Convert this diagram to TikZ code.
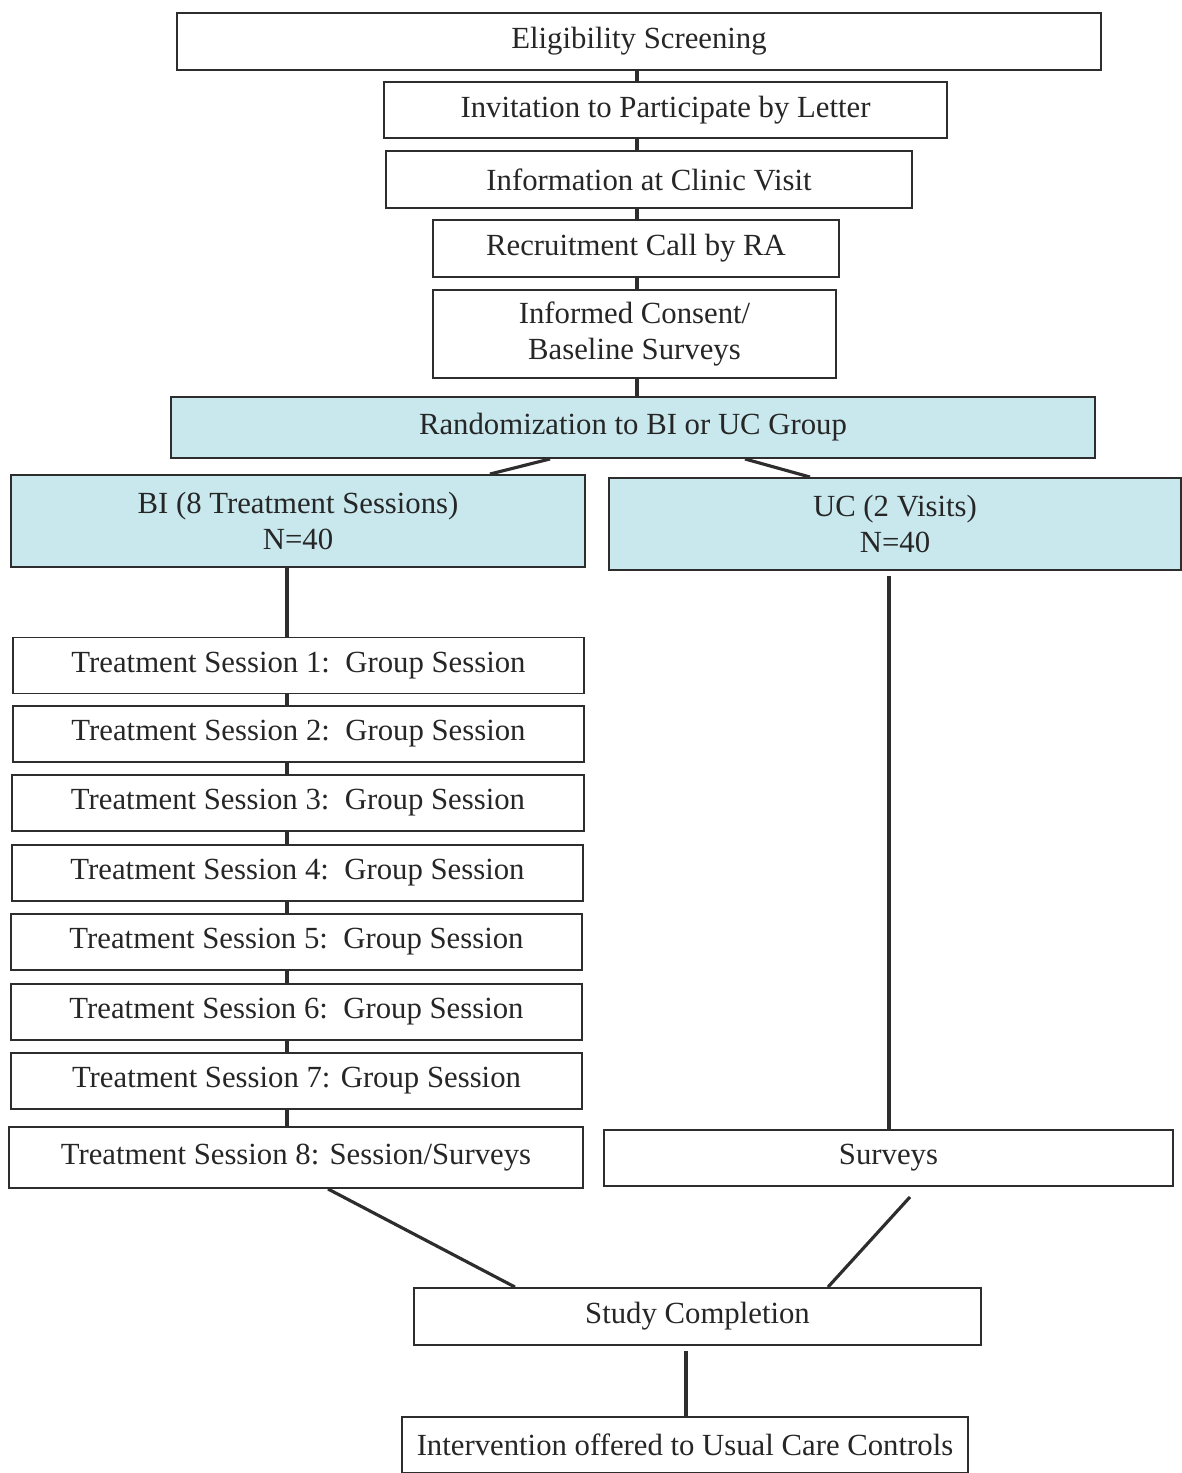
\documentclass[tikz,border=0pt]{standalone}
\usepackage{fontspec}
\setmainfont{Liberation Serif}
\usetikzlibrary{calc}
\definecolor{armfill}{RGB}{200,232,238}
\definecolor{inkline}{RGB}{45,45,45}
\tikzset{
  stagebox/.style={draw=inkline,line width=1.1pt,inner sep=0pt,align=center,
    text=black!85,font=\fontsize{17.5}{20.5}\selectfont},
  armbox/.style={stagebox,fill=armfill},
  link/.style={draw=inkline,line width=1.8pt}
}
\begin{document}
\begin{tikzpicture}[x=0.02cm,y=-0.02cm]
\useasboundingbox (0,0) rectangle (1181,1473);

% screening and recruitment
\node[stagebox,minimum width=18.48cm,minimum height=1.14cm] (elig) at (639,41.5) {Eligibility Screening};
\node[stagebox,minimum width=11.26cm,minimum height=1.12cm] (invite) at (665.5,110) {Invitation to Participate by Letter};
\node[stagebox,minimum width=10.52cm,minimum height=1.14cm] (clinic) at (649,179.5) {Information at Clinic Visit};
\node[stagebox,minimum width=8.12cm,minimum height=1.14cm] (call) at (636,248.5) {Recruitment Call by RA};
\node[stagebox,minimum width=8.06cm,minimum height=1.76cm] (consent) at (634.5,334) {Informed Consent/\\Baseline Surveys};

\coordinate (spine) at (637,0);
\draw[link] (elig.south -| spine) -- (invite.north -| spine);
\draw[link] (invite.south -| spine) -- (clinic.north -| spine);
\draw[link] (clinic.south -| spine) -- (call.north -| spine);
\draw[link] (call.south -| spine) -- (consent.north -| spine);

% randomization
\node[armbox,minimum width=18.48cm,minimum height=1.22cm] (rand) at (633,427.5) {Randomization to BI or UC Group};
\draw[link] (consent.south -| spine) -- (rand.north -| spine);

\node[armbox,minimum width=11.48cm,minimum height=1.84cm] (bi) at (298,521) {BI (8 Treatment Sessions)\\N=40};
\node[armbox,minimum width=11.44cm,minimum height=1.84cm] (uc) at (895,524) {UC (2 Visits)\\N=40};
\draw[link] ($(rand.south)+(-83,0)$) -- ($(bi.north)+(192,0)$);
\draw[link] ($(rand.south)+(112,0)$) -- ($(uc.north)+(-85,0)$);

% treatment sessions
\coordinate (lspine) at (287,0);
\foreach \i/\x/\y/\txt in {1/298.5/665.5/{Treatment Session 1:\ \ Group Session},
                          2/298.5/734/{Treatment Session 2:\ \ Group Session},
                          3/298/803/{Treatment Session 3:\ \ Group Session},
                          4/297.5/873/{Treatment Session 4:\ \ Group Session},
                          5/296.5/942/{Treatment Session 5:\ \ Group Session},
                          6/296.5/1012/{Treatment Session 6:\ \ Group Session},
                          7/296.5/1081/{Treatment Session 7: Group Session}}
  \node[stagebox,minimum width=11.44cm,minimum height=1.12cm] (ts\i) at (\x,\y) {\txt};
\node[stagebox,minimum width=11.48cm,minimum height=1.22cm] (ts8) at (296,1157.5) {Treatment Session 8: Session/Surveys};

\draw[link] (bi.south -| lspine) -- (ts1.north -| lspine);
\foreach \i [evaluate=\i as \j using int(\i+1)] in {1,...,7}
  \draw[link] (ts\i.south -| lspine) -- (ts\j.north -| lspine);

% usual care arm
\node[stagebox,minimum width=11.38cm,minimum height=1.12cm] (surveys) at (888.5,1158) {Surveys};
\coordinate (rspine) at (889,0);
\draw[link] ($(uc.south -| rspine)+(0,5)$) -- (surveys.north -| rspine);

% completion
\node[stagebox,minimum width=11.34cm,minimum height=1.14cm] (done) at (697.5,1316.5) {Study Completion};
\node[stagebox,minimum width=11.32cm,minimum height=1.12cm] (offer) at (685,1445) {Intervention offered to Usual Care Controls};
\draw[link] ($(ts8.south)+(32,0)$) -- ($(done.north)+(-182.5,0)$);
\draw[link] ($(surveys.south)+(21.5,10)$) -- ($(done.north)+(130.5,0)$);
\coordinate (ospine) at (686,0);
\draw[link,line width=2.2pt] ($(done.south -| ospine)+(0,5)$) -- (offer.north -| ospine);

\end{tikzpicture}
\end{document}
